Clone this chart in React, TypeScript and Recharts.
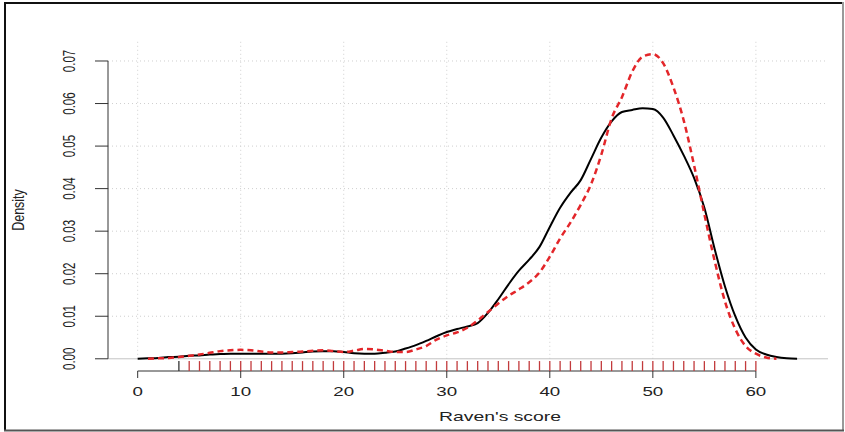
import {
  CartesianGrid,
  Line,
  LineChart,
  ReferenceLine,
  XAxis,
  YAxis,
} from "recharts";

// Raven's score grid (x) and the two kernel density estimates
const scores = [
  0, 1, 2, 3, 4, 5, 6, 7, 8, 9, 10, 11, 12, 13, 14, 15, 16, 17, 18, 19, 20, 21,
  22, 23, 24, 25, 26, 27, 28, 29, 30, 31, 32, 33, 34, 35, 36, 37, 38, 39, 40,
  41, 42, 43, 44, 45, 46, 47, 48, 49, 50, 51, 52, 53, 54, 55, 56, 57, 58, 59,
  60, 61, 62, 63, 64,
];

// solid black curve
const densitySolid = [
  0.0, 0.0001, 0.0002, 0.0004, 0.0005, 0.0007, 0.0008, 0.001, 0.0011, 0.0012,
  0.0012, 0.0012, 0.0012, 0.0012, 0.0012, 0.0013, 0.0015, 0.0017, 0.0018,
  0.0018, 0.0016, 0.0013, 0.0012, 0.0012, 0.0014, 0.0017, 0.0024, 0.0032,
  0.0042, 0.0053, 0.0063, 0.007, 0.0076, 0.0084, 0.0108, 0.014, 0.0175, 0.0207,
  0.0233, 0.0263, 0.031, 0.0355, 0.039, 0.042, 0.047, 0.052, 0.0558, 0.058,
  0.0585, 0.0589, 0.0587, 0.0567, 0.0525, 0.0478, 0.0425, 0.0355, 0.0258,
  0.017, 0.01, 0.005, 0.0022, 0.001, 0.0004, 0.0001, 0.0,
];

// red dashed curve
const densityDashed = [
  null, 0.0, 0.0001, 0.0002, 0.0004, 0.0007, 0.001, 0.0014, 0.0018, 0.002,
  0.0021, 0.002, 0.0017, 0.0015, 0.0015, 0.0016, 0.0017, 0.0019, 0.002, 0.0018,
  0.0016, 0.0019, 0.0023, 0.0022, 0.0019, 0.0016, 0.0016, 0.0022, 0.003,
  0.0045, 0.0055, 0.0062, 0.0073, 0.009, 0.011, 0.013, 0.0148, 0.0163, 0.018,
  0.0203, 0.024, 0.0283, 0.032, 0.0362, 0.041, 0.048, 0.0565, 0.0615, 0.0675,
  0.071, 0.0716, 0.0695, 0.0638, 0.056, 0.0455, 0.034, 0.023, 0.0135, 0.007,
  0.003, 0.0012, 0.0003, 0.0, null, null,
];

const xTicks = [0, 10, 20, 30, 40, 50, 60];
const yTicks = [0, 0.01, 0.02, 0.03, 0.04, 0.05, 0.06, 0.07];
const yGrid = [0.01, 0.02, 0.03, 0.04, 0.05, 0.06, 0.07];

// rug marks (observed scores)
const rugSolid = [4];
const rugDashed = [
  5, 6, 7, 8, 9, 10, 11, 12, 13, 14, 15, 16, 17, 18, 19, 20, 21, 22, 23, 24, 25,
  26, 27, 28, 29, 30, 31, 32, 33, 34, 35, 36, 37, 38, 39, 40, 41, 42, 43, 44,
  45, 46, 47, 48, 49, 50, 51, 52, 53, 54, 55, 56, 57, 58, 59, 60,
];

const X_DOMAIN: [number, number] = [-2.88, 67];
const Y_DOMAIN: [number, number] = [-0.00287, 0.0747];
const RUG_TOP = Y_DOMAIN[0] + 0.03 * (Y_DOMAIN[1] - Y_DOMAIN[0]);

const rows = scores.map((score, i) => ({
  score,
  solid: densitySolid[i],
  dashed: densityDashed[i],
}));

const FONT = "'Liberation Sans', Arial, sans-serif";
const RED = "#e3262a";
const INK = "#222";

function XTick({ x, y, payload }: any) {
  return (
    <text
      dominantBaseline="central"
      fill={INK}
      fontFamily={FONT}
      fontSize={12.5}
      textAnchor="middle"
      transform={`translate(${x},${y + 11.5}) scale(1.5,1)`}
    >
      {payload.value}
    </text>
  );
}

function YTick({ x, y, payload }: any) {
  return (
    <text
      dominantBaseline="central"
      fill={INK}
      fontFamily={FONT}
      fontSize={11.5}
      textAnchor="middle"
      transform={`translate(${x - 24},${y}) rotate(-90) scale(1,1.45)`}
    >
      {Number(payload.value).toFixed(2)}
    </text>
  );
}

export default function App() {
  return (
    <div
      style={{
        position: "absolute",
        left: 0,
        top: 0,
        width: 845,
        height: 432,
        background: "#fff",
      }}
    >
      <LineChart
        data={rows}
        height={432}
        margin={{ top: 41, right: 17, bottom: 0, left: 0 }}
        width={845}
      >
        <CartesianGrid horizontal={false} stroke="none" vertical={false} />
        <XAxis
          allowDataOverflow
          axisLine={false}
          dataKey="score"
          domain={X_DOMAIN}
          height={61}
          tick={<XTick />}
          tickLine={{ stroke: "#333" }}
          tickSize={7}
          ticks={xTicks}
          type="number"
        />
        <YAxis
          allowDataOverflow
          axisLine={false}
          domain={Y_DOMAIN}
          tick={<YTick />}
          tickLine={{ stroke: "#333" }}
          tickSize={13}
          ticks={yTicks}
          type="number"
          width={108}
        />
        {yGrid.map((v) => (
          <ReferenceLine
            ifOverflow="visible"
            key={`hg-${v}`}
            stroke="#cfcfcf"
            strokeDasharray="1 3"
            y={v}
          />
        ))}
        {xTicks.map((v) => (
          <ReferenceLine
            ifOverflow="visible"
            key={`vg-${v}`}
            segment={[
              { x: v, y: 0 },
              { x: v, y: Y_DOMAIN[1] },
            ]}
            stroke="#cfcfcf"
            strokeDasharray="1 3"
          />
        ))}
        <ReferenceLine ifOverflow="visible" stroke="#c4c4c4" y={0} />
        {/* axis lines span only the labelled range, like base R */}
        <ReferenceLine
          ifOverflow="visible"
          segment={[
            { x: xTicks[0], y: Y_DOMAIN[0] },
            { x: xTicks[xTicks.length - 1], y: Y_DOMAIN[0] },
          ]}
          stroke="#333"
        />
        <ReferenceLine
          ifOverflow="visible"
          segment={[
            { x: X_DOMAIN[0], y: yTicks[0] },
            { x: X_DOMAIN[0], y: yTicks[yTicks.length - 1] },
          ]}
          stroke="#333"
        />
        {rugSolid.map((v) => (
          <ReferenceLine
            ifOverflow="visible"
            key={`rs-${v}`}
            segment={[
              { x: v, y: Y_DOMAIN[0] },
              { x: v, y: RUG_TOP },
            ]}
            stroke="#333"
            strokeWidth={1.3}
          />
        ))}
        {rugDashed.map((v) => (
          <ReferenceLine
            ifOverflow="visible"
            key={`rd-${v}`}
            segment={[
              { x: v, y: Y_DOMAIN[0] },
              { x: v, y: RUG_TOP },
            ]}
            stroke="#c23a3c"
            strokeWidth={1.3}
          />
        ))}
        <Line
          dataKey="solid"
          dot={false}
          isAnimationActive={false}
          stroke="#000"
          strokeWidth={2}
          type="monotone"
        />
        <Line
          dataKey="dashed"
          dot={false}
          isAnimationActive={false}
          stroke={RED}
          strokeDasharray="6 4"
          strokeWidth={2.5}
          type="monotone"
        />
      </LineChart>
      <svg
        height={432}
        style={{ position: "absolute", left: 0, top: 0, pointerEvents: "none" }}
        width={845}
      >
        <text
          dominantBaseline="central"
          fill={INK}
          fontFamily={FONT}
          fontSize={12.5}
          textAnchor="middle"
          transform="translate(500,416.5) scale(1.55,1)"
        >
          Raven's score
        </text>
        <text
          dominantBaseline="central"
          fill={INK}
          fontFamily={FONT}
          fontSize={12.5}
          textAnchor="middle"
          transform="translate(18,210) rotate(-90) scale(1,1.25)"
        >
          Density
        </text>
        <line stroke="#111" strokeWidth={2} x1={4} x2={844} y1={3} y2={3} />
        <line stroke="#111" strokeWidth={2} x1={5} x2={5} y1={2} y2={431} />
        <line stroke="#999" strokeWidth={2} x1={843} x2={843} y1={2} y2={431} />
        <line stroke="#555" strokeWidth={2} x1={4} x2={844} y1={430.5} y2={430.5} />
      </svg>
    </div>
  );
}
